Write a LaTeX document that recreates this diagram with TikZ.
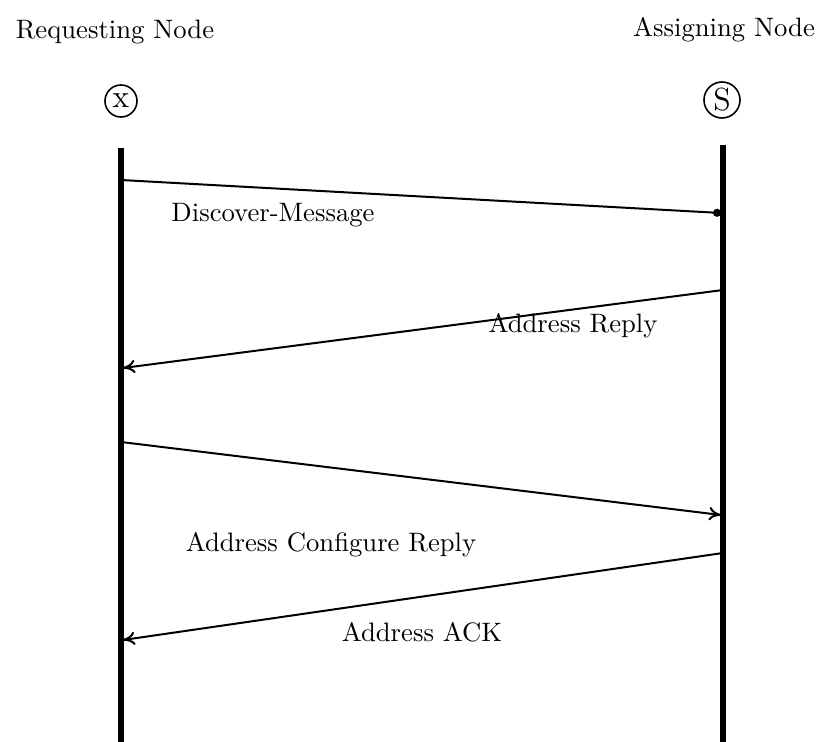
\documentclass[tikz,border=0pt]{standalone}
\usepackage{amsmath}
\usepackage{tikz}
\usetikzlibrary{positioning, arrows, arrows.meta}

\tikzset{
  lifeline/.style={line width=1.9pt},
  entity/.style={circle, draw, line width=0.6pt, inner sep=0pt, font=\large},
  msg/.style={line width=0.75pt, -{To[length=4.5pt,width=5pt]}},
  dotmsg/.style={line width=0.75pt, -{Circle[length=3pt]}}
}

\begin{document}
\begin{tikzpicture}[x=0.375pt, y=-0.375pt]
\useasboundingbox (0,0) rectangle (824,742);

\node (req) at (115,32) {Requesting Node};
\node (asg) at (724,30) {Assigning Node};

\node[entity, minimum size=12pt] (X) at (121,101) {x};
\node[entity, minimum size=13.5pt] (S) at (722,100) {S};

\coordinate (xtop) at (121,148);
\coordinate (xbot) at (121,742);
\coordinate (stop) at (723,145);
\coordinate (sbot) at (723,742);

\draw[lifeline] (xtop) -- (xbot);
\draw[lifeline] (stop) -- (sbot);

% messages
\coordinate (d1) at (121,180);
\coordinate (d2) at (721,213);
\coordinate (r1) at (723,290);
\coordinate (r2) at (123,368);
\coordinate (c1) at (121,442);
\coordinate (c2) at (721,515);
\coordinate (a1) at (723,553);
\coordinate (a2) at (123,640);

\draw[dotmsg] (d1) -- (d2);
\draw[msg] (r1) -- (r2);
\draw[msg] (c1) -- (c2);
\draw[msg] (a1) -- (a2);

\node (discover) at (273,215) {Discover-Message};
\node (reply)    at (573,326) {Address Reply};
\node (config)   at (331,545) {Address Configure Reply};
\node (ack)      at (422,632) {Address ACK};
\end{tikzpicture}
\end{document}
